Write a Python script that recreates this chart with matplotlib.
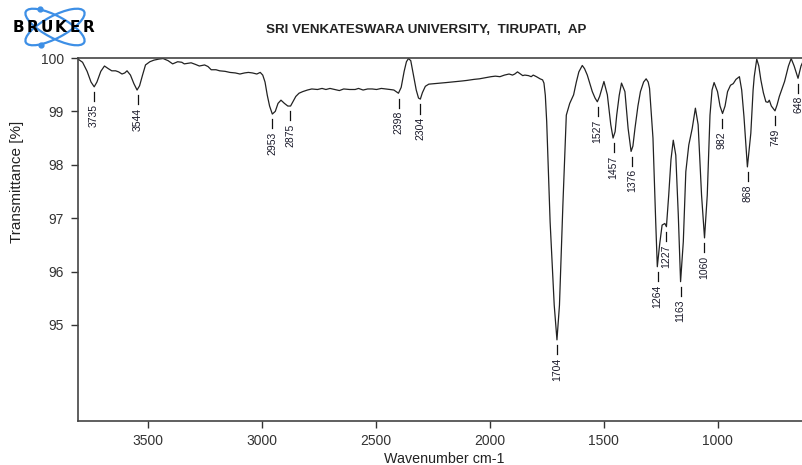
import matplotlib
matplotlib.use('Agg')
from matplotlib import pyplot as plt
from matplotlib import patches as pts
import numpy as np

plt.rcParams['font.family'] = ['Liberation Sans', 'DejaVu Sans']

# spectrum: wavenumber (cm-1) and transmittance (%)
wn = [3805, 3785, 3765, 3748, 3734, 3722, 3705, 3689, 3672, 3657, 3640, 3627,
      3612, 3600, 3590, 3575, 3560, 3546, 3535, 3522, 3509, 3490, 3472, 3450,
      3432, 3410, 3390, 3368, 3350, 3339, 3309, 3290, 3273, 3250, 3235, 3221,
      3200, 3184, 3160, 3139, 3115, 3095, 3075, 3058, 3040, 3021, 3006, 2995,
      2985, 2975, 2965, 2953, 2940, 2928, 2915, 2900, 2885, 2873, 2860, 2850,
      2836, 2820, 2799, 2780, 2755, 2735, 2718, 2700, 2680, 2659, 2640, 2614,
      2590, 2575, 2555, 2535, 2515, 2496, 2475, 2455, 2437, 2420, 2410, 2400,
      2388, 2375, 2365, 2356, 2346, 2335, 2322, 2312, 2304, 2295, 2282, 2267,
      2240, 2215, 2190, 2165, 2142, 2120, 2100, 2068, 2045, 2020, 1994, 1975,
      1955, 1935, 1915, 1900, 1890, 1878, 1865, 1855, 1846, 1830, 1818, 1809,
      1795, 1779, 1768, 1762, 1756, 1750, 1735, 1717, 1705, 1694, 1679, 1664,
      1649, 1632, 1620, 1609, 1594, 1584, 1572, 1550, 1538, 1528, 1518, 1510,
      1499, 1484, 1469, 1459, 1450, 1443, 1432, 1422, 1407, 1393, 1380, 1372,
      1363, 1350, 1339, 1325, 1314, 1305, 1299, 1284, 1272, 1265, 1255, 1244,
      1232, 1225, 1215, 1205, 1195, 1184, 1173, 1163, 1151, 1140, 1127, 1112,
      1098, 1086, 1071, 1058, 1046, 1034, 1025, 1016, 1001, 990, 979, 968,
      957, 944, 932, 920, 905, 895, 885, 870, 855, 845, 840, 829,
      820, 811, 800, 789, 780, 774, 765, 749, 740, 730, 720, 707,
      690, 678, 665, 648, 635, 619, 605, 592, 585]
trans = [99.98, 99.92, 99.75, 99.55, 99.46, 99.55, 99.75, 99.85, 99.80, 99.76, 99.76, 99.74,
         99.70, 99.72, 99.76, 99.68, 99.52, 99.40, 99.48, 99.68, 99.87, 99.93, 99.96, 99.98,
         99.99, 99.95, 99.89, 99.93, 99.92, 99.89, 99.91, 99.88, 99.85, 99.87, 99.84, 99.78,
         99.78, 99.76, 99.75, 99.73, 99.72, 99.70, 99.72, 99.73, 99.72, 99.70, 99.73, 99.68,
         99.55, 99.30, 99.10, 98.95, 99.00, 99.15, 99.21, 99.15, 99.10, 99.10, 99.20, 99.28,
         99.34, 99.37, 99.40, 99.42, 99.41, 99.43, 99.41, 99.43, 99.41, 99.39, 99.42, 99.41,
         99.41, 99.43, 99.40, 99.42, 99.42, 99.41, 99.43, 99.42, 99.41, 99.40, 99.37, 99.34,
         99.45, 99.75, 99.93, 99.99, 99.95, 99.70, 99.40, 99.25, 99.23, 99.35, 99.47, 99.51,
         99.52, 99.53, 99.54, 99.55, 99.56, 99.57, 99.58, 99.60, 99.61, 99.63, 99.65, 99.66,
         99.65, 99.68, 99.70, 99.68, 99.70, 99.74, 99.70, 99.67, 99.68, 99.67, 99.65, 99.68,
         99.65, 99.61, 99.59, 99.53, 99.30, 98.81, 96.93, 95.37, 94.72, 95.37, 97.25, 98.93,
         99.15, 99.31, 99.55, 99.74, 99.86, 99.80, 99.68, 99.37, 99.25, 99.18, 99.28, 99.40,
         99.56, 99.31, 98.75, 98.50, 98.62, 98.93, 99.30, 99.53, 99.37, 98.68, 98.25, 98.35,
         98.68, 99.10, 99.37, 99.55, 99.61, 99.55, 99.43, 98.50, 96.93, 96.09, 96.50, 96.87,
         96.90, 96.84, 97.43, 98.10, 98.46, 98.18, 97.06, 95.81, 96.56, 97.87, 98.37, 98.68,
         99.06, 98.75, 97.43, 96.63, 97.43, 98.93, 99.40, 99.54, 99.37, 99.10, 98.96, 99.10,
         99.37, 99.49, 99.52, 99.60, 99.65, 99.40, 98.90, 97.96, 98.59, 99.40, 99.65, 99.98,
         99.85, 99.59, 99.35, 99.18, 99.17, 99.21, 99.10, 99.01, 99.12, 99.28, 99.40, 99.56,
         99.85, 99.99, 99.85, 99.62, 99.85, 100.00, 99.80, 99.40, 98.98]

# labelled peaks
peak_wn = [3735, 3544, 2953, 2875, 2398, 2304, 1704, 1527, 1457, 1376,
           1264, 1227, 1163, 1060, 982, 868, 749, 648, 590]
peak_t = [99.46, 99.40, 98.95, 99.10, 99.34, 99.23, 94.72, 99.18, 98.50, 98.25,
          96.09, 96.84, 95.81, 96.63, 98.96, 97.96, 99.01, 99.62, 98.98]

xticks = [3500, 3000, 2500, 2000, 1500, 1000]
yticks = [95, 96, 97, 98, 99, 100]

W, H = 803, 465
fig = plt.figure(figsize=(W/100, H/100), dpi=100)
ax = fig.add_axes([78/W, (H-421)/H, (W-78)/W + 0.01, (421-58)/H])

ax.plot(wn, trans, color='#222222', lw=0.9)
ax.set_xlim(3805, 591)
ax.set_ylim(93.2, 100)

# peak markers and numbers
for p, t in zip(peak_wn, peak_t):
    ax.plot([p, p], [t-0.10, t-0.27], color='#111111', lw=0.9, clip_on=False)
    ax.text(p, t-0.33, str(p), rotation=90, ha='center', va='top',
            fontsize=7.5, color='#1a1a2a', clip_on=False)

ax.set_xticks(xticks)
ax.set_yticks(yticks)
ax.tick_params(direction='out', length=5, width=1, colors='#333333',
               labelsize=10, pad=4)
ax.tick_params(axis='y', pad=5)
for s in ['left', 'top', 'bottom']:
    ax.spines[s].set_color('#444444')
    ax.spines[s].set_linewidth(1.2)
ax.spines['right'].set_visible(False)

fig.text(17/W, 1-182/H, 'Transmittance [%]', rotation=90, ha='center',
         va='center', fontsize=11, color='#222222')
fig.text(444/W, 1-459/H, 'Wavenumber cm-1', ha='center', va='center',
         fontsize=10.3, color='#222222')
fig.text(426/W, 1-30/H, 'SRI VENKATESWARA UNIVERSITY,  TIRUPATI,  AP',
         ha='center', va='center', fontsize=9.6, fontweight='bold',
         color='#222222')

# Bruker logo, drawn in pixel units
lg = fig.add_axes([0, 1-50/H, 110/W, 50/H])
lg.set_xlim(0, 110)
lg.set_ylim(50, 0)
lg.axis('off')
for ang in [28, -28]:
    lg.add_patch(pts.Ellipse((55, 27), 66, 22, angle=ang, fill=False,
                             ec='#3d8fe6', lw=1.6))
lg.plot([40, 41], [9, 45], 'o', color='#3d8fe6', ms=3.5)
for i, ch in enumerate('BRUKER'):
    lg.text(18 + i*14.2, 28, ch, ha='center', va='center', fontsize=11,
            fontweight='heavy', family='DejaVu Sans', color='black')

fig.savefig('out.png', dpi=100)
